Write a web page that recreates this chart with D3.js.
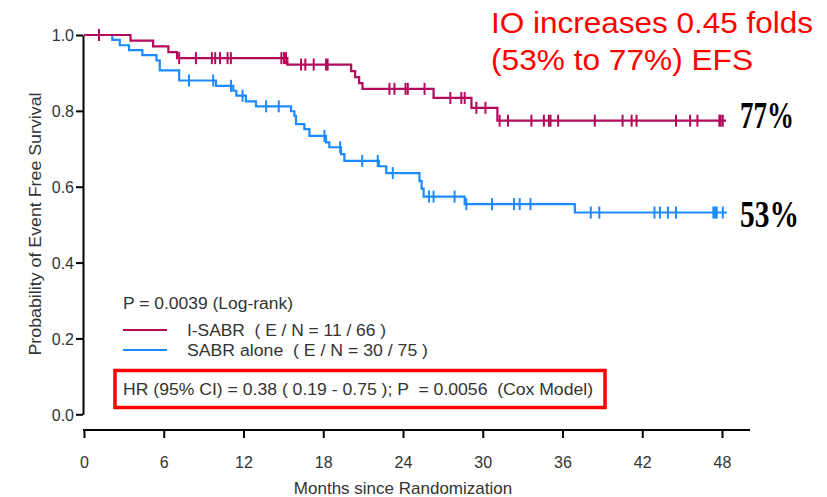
<!DOCTYPE html>
<html>
<head>
<meta charset="utf-8">
<script src="https://cdn.jsdelivr.net/npm/d3@7"></script>
<style>
  body { margin: 0; background: #fff; }
  svg { display: block; font-family: "Liberation Sans", Arial, sans-serif; }
  text { white-space: pre; }
</style>
</head>
<body>
<svg width="827" height="497"></svg>
<script>
// x ticks and y ticks
const monthTicks = [0, 6, 12, 18, 24, 30, 36, 42, 48];
const probTicks = [0, 0.2, 0.4, 0.6, 0.8, 1.0];

// I-SABR: event times (months) and survival right after each event
const isabrTimes = [3.5, 5.2, 6.35, 7.0, 15.3, 20.1, 20.4, 20.7, 20.95, 26.3, 29.15, 31.1];
const isabrSurv  = [0.985, 0.970, 0.955, 0.939, 0.922, 0.905, 0.889, 0.873, 0.858, 0.834, 0.808, 0.774];
const isabrCensor = [1.13, 7.16, 8.42, 9.62, 9.87, 10.23, 10.8, 11.05, 14.85, 15.05, 15.2,
  16.33, 16.65, 17.28, 18.21, 18.33, 22.98, 23.36, 24.19, 24.36, 25.62, 27.56, 28.39, 28.64,
  29.52, 30.2, 31.27, 31.9, 33.66, 34.6, 34.97, 35.1, 35.67, 38.43, 40.52, 41.2, 41.57,
  44.54, 45.6, 46.15, 47.8, 47.9, 48.06];
const isabrEnd = 48.3;

// SABR alone
const sabrTimes = [2.13, 2.69, 3.39, 4.39, 5.45, 5.7, 7.16, 9.93, 11.23, 11.46, 12.18, 12.94,
  15.58, 15.83, 15.95, 16.58, 16.96, 18.21, 18.46, 19.34, 19.59, 22.18, 22.74, 25.24, 25.4,
  25.55, 28.64, 36.93];
const sabrSurv = [0.987, 0.973, 0.960, 0.947, 0.933, 0.907, 0.880, 0.866, 0.853, 0.840, 0.825,
  0.812, 0.799, 0.787, 0.765, 0.752, 0.734, 0.717, 0.704, 0.686, 0.668, 0.654, 0.636, 0.615,
  0.595, 0.574, 0.554, 0.532];
const sabrCensor = [7.9, 9.72, 11.06, 11.93, 13.7, 14.65, 18.09, 19.27, 20.93, 22.1, 23.23,
  25.95, 26.3, 27.88, 28.76, 30.7, 32.35, 32.78, 33.59, 38.13, 38.77, 42.92, 43.33, 43.93,
  44.54, 47.35, 47.48, 47.6, 48.06];
const sabrEnd = 48.36;

const redCol = "#b3095c";
const blueCol = "#1b8bff";

const svg = d3.select("svg");

const x = d3.scaleLinear().domain([0, 48]).range([84, 722]);
const y = d3.scaleLinear().domain([0, 1]).range([414.3, 35]);

// y axis
const yAxis = svg.append("g")
  .attr("transform", "translate(83,0)")
  .call(d3.axisLeft(y).tickValues(probTicks).tickFormat(d3.format(".1f")).tickSize(7).tickSizeOuter(0));
yAxis.select(".domain").attr("stroke-width", 2);
yAxis.selectAll(".tick line").attr("stroke-width", 2);
yAxis.selectAll(".tick text")
  .attr("x", -9)
  .attr("dy", "0.36em")
  .style("font-size", "16px")
  .attr("fill", "#333");

// x axis
const xAxis = svg.append("g")
  .attr("transform", "translate(0,430)")
  .call(d3.axisBottom(x).tickValues(monthTicks).tickSize(8).tickSizeOuter(0));
xAxis.select(".domain").attr("d", "M83,0H750").attr("stroke-width", 2);
xAxis.selectAll(".tick line").attr("stroke-width", 2);
xAxis.selectAll(".tick text")
  .attr("y", 27)
  .attr("dy", "0.71em")
  .style("font-size", "16px")
  .attr("fill", "#333");

svg.append("text")
  .attr("x", x(24)).attr("y", 494)
  .attr("text-anchor", "middle")
  .style("font-size", "17px")
  .attr("fill", "#333")
  .text("Months since Randomization");

svg.append("text")
  .attr("transform", "translate(41,224) rotate(-90)")
  .attr("text-anchor", "middle")
  .style("font-size", "16px")
  .attr("textLength", 263)
  .attr("lengthAdjust", "spacingAndGlyphs")
  .attr("fill", "#333")
  .text("Probability of Event Free Survival");

function curvePoints(times, surv, end) {
  const pts = [[0, 1]];
  times.forEach((t, i) => pts.push([t, surv[i]]));
  pts.push([end, surv[surv.length - 1]]);
  return pts;
}
function survAt(times, surv, t) {
  let s = 1;
  times.forEach((tt, i) => { if (tt <= t) s = surv[i]; });
  return s;
}

const line = d3.line()
  .x(d => x(d[0]))
  .y(d => y(d[1]))
  .curve(d3.curveStepAfter);

function drawArm(times, surv, censor, end, color) {
  svg.append("path")
    .datum(curvePoints(times, surv, end))
    .attr("fill", "none")
    .attr("stroke", color)
    .attr("stroke-width", 2.2)
    .attr("d", line);
  svg.append("g")
    .selectAll("line")
    .data(censor)
    .enter()
    .append("line")
    .attr("x1", d => x(d))
    .attr("x2", d => x(d))
    .attr("y1", d => y(survAt(times, surv, d)) - 6)
    .attr("y2", d => y(survAt(times, surv, d)) + 6)
    .attr("stroke", color)
    .attr("stroke-width", 2);
}

drawArm(sabrTimes, sabrSurv, sabrCensor, sabrEnd, blueCol);
drawArm(isabrTimes, isabrSurv, isabrCensor, isabrEnd, redCol);

// end labels
svg.append("text")
  .attr("x", 740).attr("y", 128)
  .style("font-family", "'Liberation Serif', 'Times New Roman', serif")
  .style("font-weight", "bold")
  .style("font-size", "37px")
  .attr("textLength", 54)
  .attr("lengthAdjust", "spacingAndGlyphs")
  .text("77%");
svg.append("text")
  .attr("x", 740).attr("y", 227)
  .style("font-family", "'Liberation Serif', 'Times New Roman', serif")
  .style("font-weight", "bold")
  .style("font-size", "37px")
  .attr("textLength", 59)
  .attr("lengthAdjust", "spacingAndGlyphs")
  .text("53%");

// red headline
svg.append("text")
  .attr("x", 491).attr("y", 33)
  .style("font-size", "30px")
  .attr("textLength", 322)
  .attr("lengthAdjust", "spacingAndGlyphs")
  .attr("fill", "#ff0000")
  .text("IO increases 0.45 folds");
svg.append("text")
  .attr("x", 491).attr("y", 70)
  .style("font-size", "30px")
  .attr("textLength", 262)
  .attr("lengthAdjust", "spacingAndGlyphs")
  .attr("fill", "#ff0000")
  .text("(53% to 77%) EFS");

// legend
svg.append("text")
  .attr("x", 123).attr("y", 309)
  .style("font-size", "16px")
  .attr("textLength", 170)
  .attr("lengthAdjust", "spacingAndGlyphs")
  .attr("fill", "#333")
  .text("P = 0.0039 (Log-rank)");

const legendItems = [
  { label: "I-SABR  ( E / N = 11 / 66 )", color: redCol, len: 199 },
  { label: "SABR alone  ( E / N = 30 / 75 )", color: blueCol, len: 241 }
];
const leg = svg.append("g").selectAll("g")
  .data(legendItems)
  .enter()
  .append("g")
  .attr("transform", (d, i) => `translate(123, ${330 + i * 20})`);
leg.append("line")
  .attr("x1", 0).attr("x2", 44)
  .attr("stroke", d => d.color)
  .attr("stroke-width", 2);
leg.append("text")
  .attr("x", 64).attr("y", 6)
  .style("font-size", "16px")
  .attr("textLength", d => d.len)
  .attr("lengthAdjust", "spacingAndGlyphs")
  .attr("fill", "#333")
  .text(d => d.label);

// HR box
svg.append("rect")
  .attr("x", 115).attr("y", 370.5)
  .attr("width", 490).attr("height", 37)
  .attr("fill", "none")
  .attr("stroke", "#ff0000")
  .attr("stroke-width", 3.5);
svg.append("text")
  .attr("x", 123).attr("y", 395)
  .style("font-size", "16px")
  .attr("textLength", 470)
  .attr("lengthAdjust", "spacingAndGlyphs")
  .attr("fill", "#333")
  .text("HR (95% CI) = 0.38 ( 0.19 - 0.75 ); P  = 0.0056  (Cox Model)");
</script>
</body>
</html>
